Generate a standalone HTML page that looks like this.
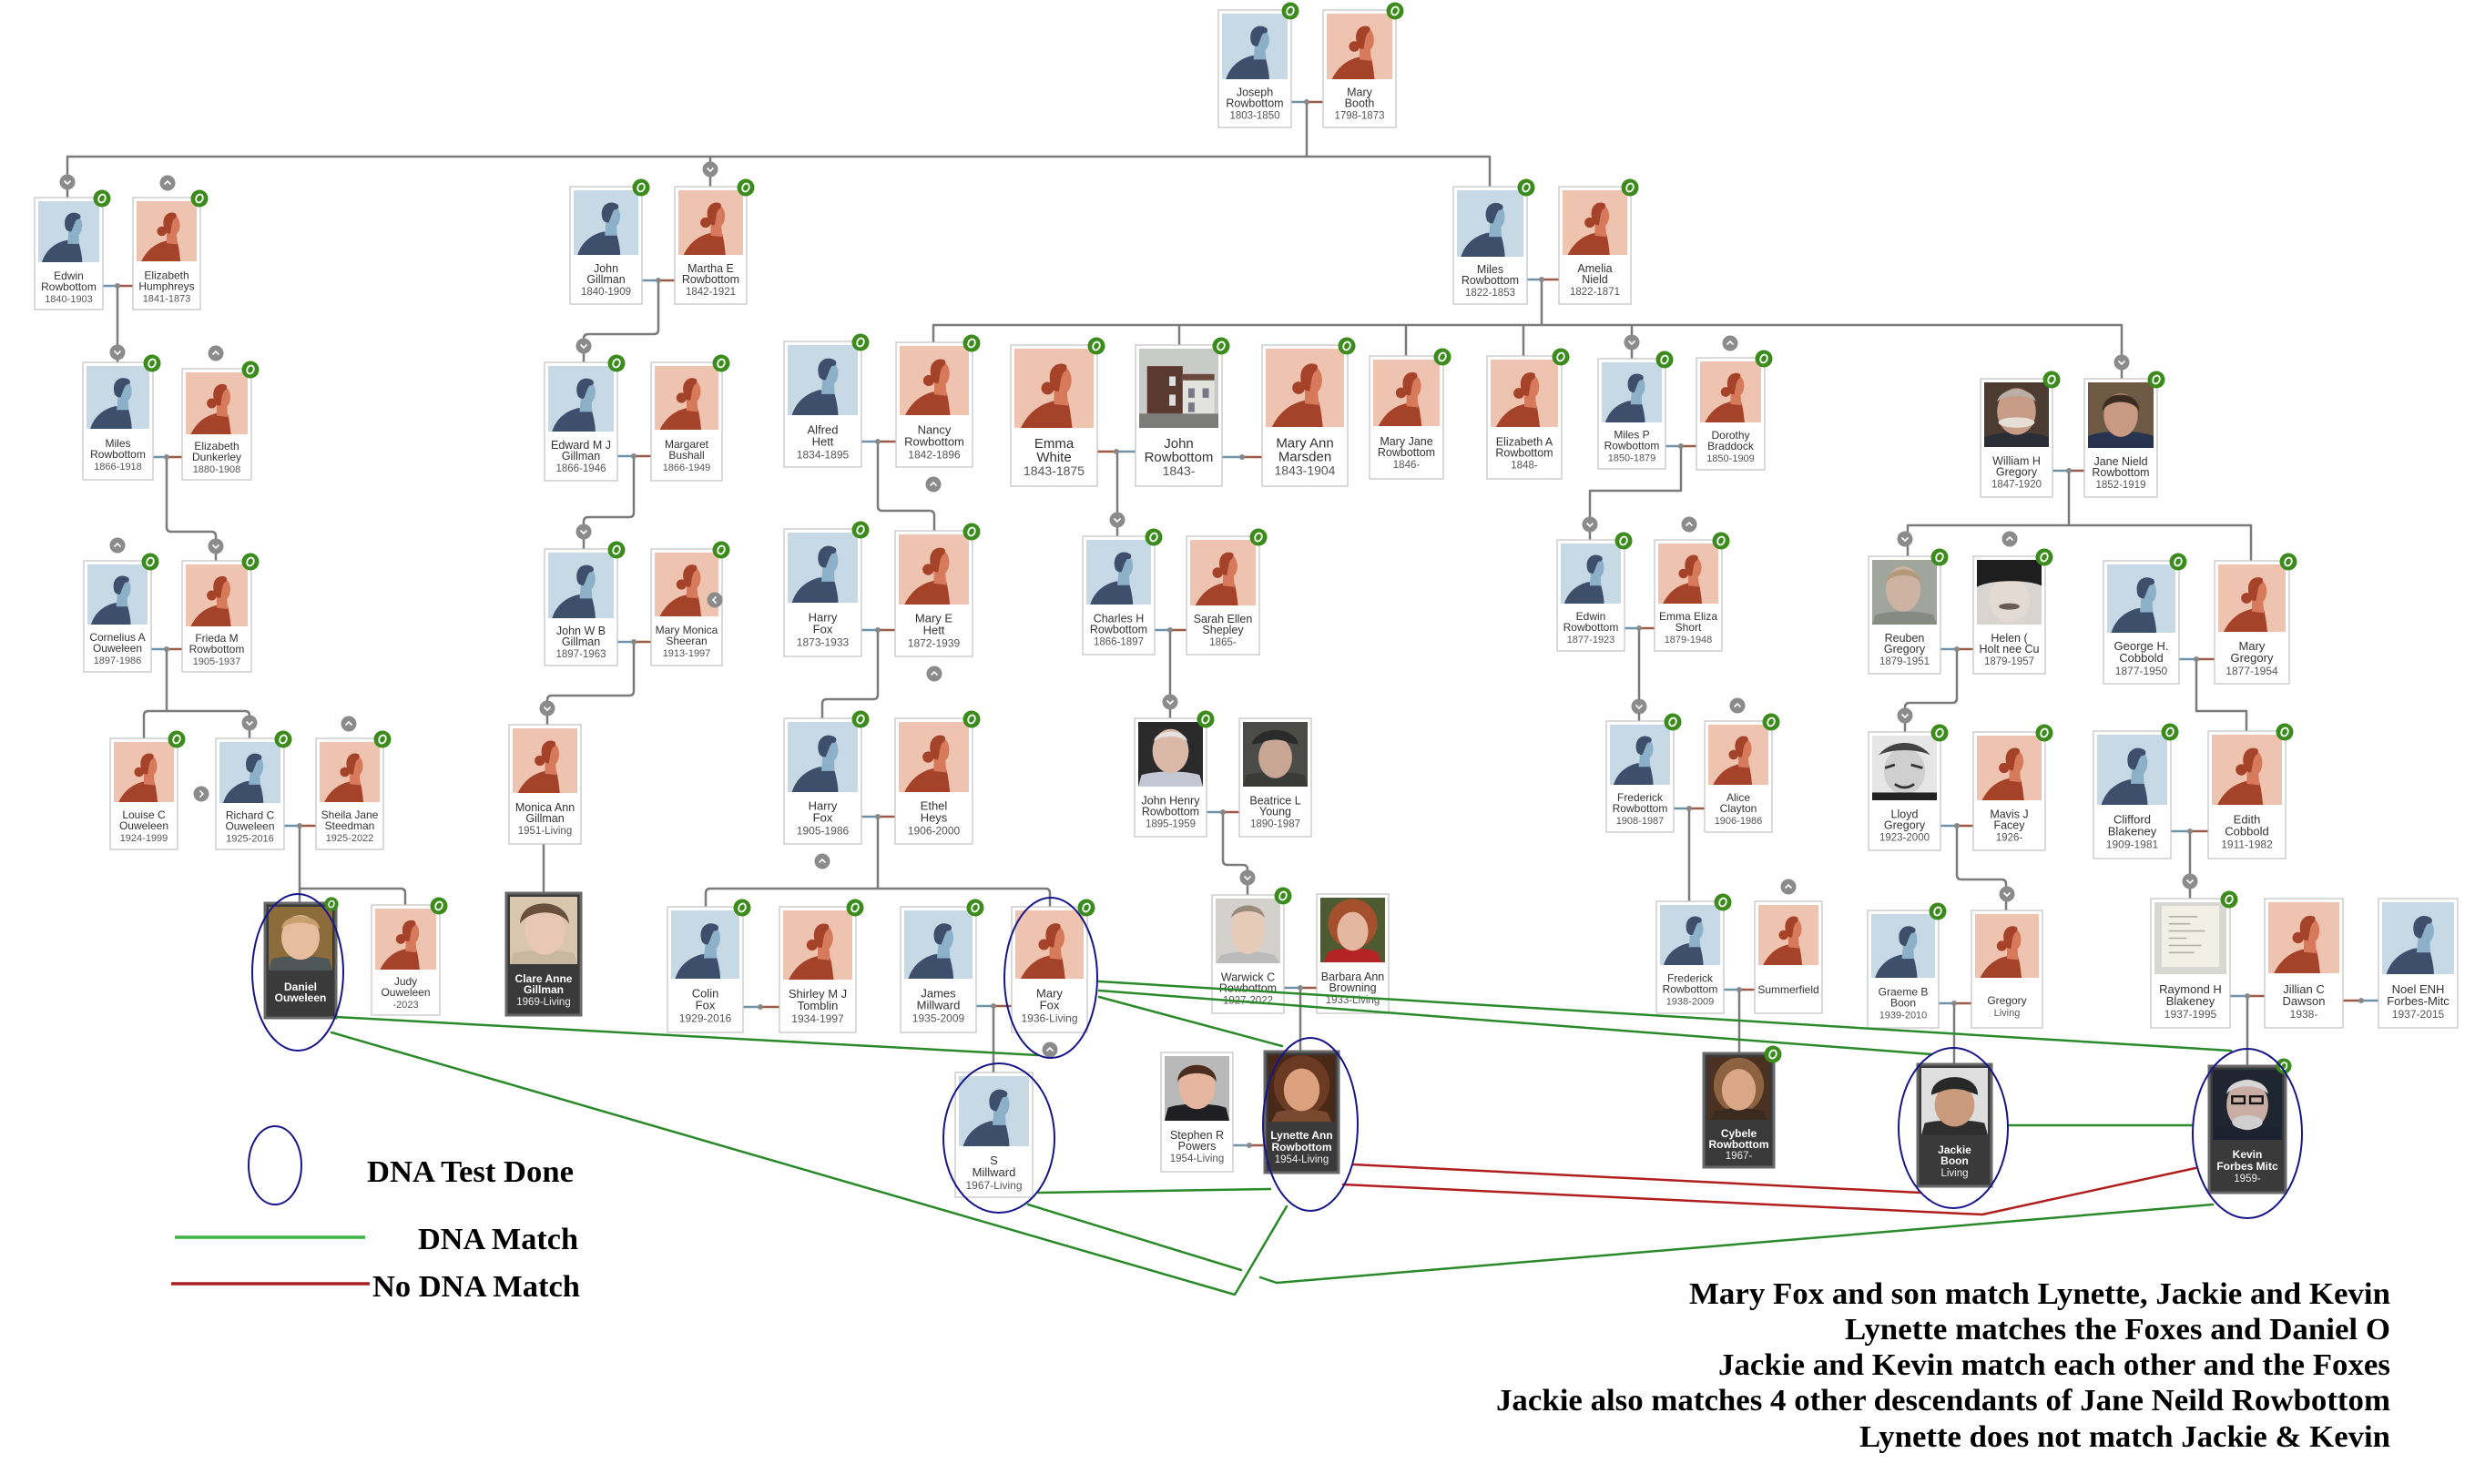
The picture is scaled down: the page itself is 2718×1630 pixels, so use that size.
<!DOCTYPE html>
<html><head><meta charset="utf-8"><style>
html,body{margin:0;padding:0;background:#fff;}
svg{display:block;}
.c{fill:#fff;stroke:#c2c2c2;stroke-width:1.2}
.k{fill:#3a3a3a;stroke:#676767;stroke-width:3}
text{font-family:"Liberation Sans",Arial,sans-serif;text-anchor:middle}
.a{font-size:12px;fill:#333}.a2{font-size:11px;fill:#555}
.b{font-size:12.5px;fill:#333}.b2{font-size:11.5px;fill:#555}
.l{font-size:13px;fill:#333}.l2{font-size:12px;fill:#555}
.e{font-size:15px;fill:#333}.e2{font-size:14px;fill:#555}
.w{font-size:12px;fill:#fff;font-weight:bold}.w2{font-size:11.5px;fill:#eee}
.tr{stroke:#7b7b7b;stroke-width:2.5;fill:none;stroke-linejoin:round}
.cb{stroke:#6e93a8;stroke-width:2.5}.cr{stroke:#9c5b47;stroke-width:2.5}
.g{stroke:#2a8a2a;stroke-width:2.5;fill:none}
.r{stroke:#b01e1e;stroke-width:2.5;fill:none}
.el{fill:none;stroke:#16168a;stroke-width:2}
.big{font-family:"Liberation Serif","Times New Roman",serif;font-weight:bold;font-size:34px;fill:#000;text-anchor:start}
</style></head><body>
<svg width="2718" height="1630" viewBox="0 0 2718 1630" xmlns="http://www.w3.org/2000/svg">
<defs>
<symbol id="M" viewBox="0 0 100 100" preserveAspectRatio="none"><rect width="100" height="100" fill="#c6d9e5"/><path d="M6 100 C12 80 28 68 46 64 L66 66 C70 80 72 92 72 100Z" fill="#3e4f6c"/><path d="M50 48 L66 48 L67 70 L48 70Z" fill="#8db0c9"/><ellipse cx="60" cy="40" rx="12" ry="18" fill="#8db0c9"/><path d="M44 42 C40 22 56 14 68 22 C71 26 69 30 63 30 C59 35 58 42 54 50 C48 50 45 47 44 42Z" fill="#3e4f6c"/></symbol>
<symbol id="F" viewBox="0 0 100 100" preserveAspectRatio="none"><rect width="100" height="100" fill="#eec3b0"/><path d="M8 100 C18 80 32 70 50 66 L68 68 C71 80 72 92 73 100Z" fill="#a4432a"/><path d="M50 50 L66 50 L68 72 L50 70Z" fill="#d67a5b"/><ellipse cx="60" cy="40" rx="12" ry="18" fill="#d67a5b"/><path d="M46 46 C40 24 54 16 64 20 C68 22 66 28 62 30 C58 36 58 46 56 54 C50 54 47 51 46 46Z" fill="#a4432a"/><circle cx="42" cy="50" r="8" fill="#a4432a"/></symbol>
<symbol id="pHS" viewBox="0 0 100 100" preserveAspectRatio="none"><rect width="100" height="100" fill="#c9cbc9"/><rect x="10" y="22" width="45" height="60" fill="#5a3a30"/><rect x="55" y="38" width="40" height="48" fill="#e2e2de"/><rect x="55" y="32" width="40" height="8" fill="#6a4a3e"/><rect x="0" y="82" width="100" height="18" fill="#7c7c78"/><rect x="62" y="50" width="8" height="12" fill="#778"/><rect x="80" y="50" width="8" height="12" fill="#778"/><rect x="62" y="68" width="8" height="12" fill="#778"/><rect x="38" y="35" width="8" height="12" fill="#ddd"/><rect x="38" y="58" width="8" height="14" fill="#ddd"/></symbol>
<symbol id="pWG" viewBox="0 0 100 100" preserveAspectRatio="none"><rect width="100" height="100" fill="#4b3b30"/><path d="M0 100 L0 85 C20 75 80 75 100 85 L100 100Z" fill="#2c2c36"/><ellipse cx="50" cy="45" rx="30" ry="36" fill="#c79d88"/><path d="M20 30 C25 5 75 5 80 30 C70 18 30 18 20 30Z" fill="#b8b0a8"/><ellipse cx="50" cy="62" rx="28" ry="8" fill="#e6dfd6"/></symbol>
<symbol id="pJN" viewBox="0 0 100 100" preserveAspectRatio="none"><rect width="100" height="100" fill="#6d5944"/><path d="M0 100 L0 82 C25 72 75 72 100 82 L100 100Z" fill="#283350"/><ellipse cx="50" cy="50" rx="26" ry="33" fill="#c99a82"/><path d="M22 45 C20 10 80 10 78 45 C72 25 28 25 22 45Z" fill="#3b2c22"/></symbol>
<symbol id="pRG" viewBox="0 0 100 100" preserveAspectRatio="none"><rect width="100" height="100" fill="#a0a69c"/><path d="M0 100 L5 85 C25 78 75 78 95 85 L100 100Z" fill="#878a80"/><ellipse cx="48" cy="45" rx="27" ry="35" fill="#cdb3a2"/><path d="M22 35 C25 8 72 8 75 35 C65 20 32 20 22 35Z" fill="#b49a7a"/></symbol>
<symbol id="pHH" viewBox="0 0 100 100" preserveAspectRatio="none"><rect width="100" height="100" fill="#d8d4d0"/><ellipse cx="50" cy="62" rx="32" ry="34" fill="#e4dad4"/><path d="M0 0 L100 0 L100 40 C80 30 20 30 0 42Z" fill="#1e1e1e"/><ellipse cx="50" cy="72" rx="16" ry="5" fill="#6a5a55"/></symbol>
<symbol id="pLG" viewBox="0 0 100 100" preserveAspectRatio="none"><rect width="100" height="100" fill="#e6e6e6"/><ellipse cx="50" cy="55" rx="32" ry="36" fill="#cfcfcf"/><path d="M10 30 C30 5 70 5 90 30 C70 20 30 20 10 30Z" fill="#444"/><path d="M20 50 L35 45 M60 45 L78 50 M35 75 C45 82 55 82 65 75" stroke="#333" stroke-width="4" fill="none"/><rect y="88" width="100" height="12" fill="#222"/></symbol>
<symbol id="pJH" viewBox="0 0 100 100" preserveAspectRatio="none"><rect width="100" height="100" fill="#2a2a2a"/><path d="M0 100 L5 82 C25 75 75 75 95 82 L100 100Z" fill="#c4c8d4"/><ellipse cx="50" cy="45" rx="28" ry="34" fill="#dab9a8"/><path d="M24 30 C28 10 72 10 76 30 C66 20 34 20 24 30Z" fill="#e8e0dc"/></symbol>
<symbol id="pBY" viewBox="0 0 100 100" preserveAspectRatio="none"><rect width="100" height="100" fill="#4b4b48"/><path d="M0 100 L5 82 C25 76 75 76 95 82 L100 100Z" fill="#3a3a38"/><ellipse cx="50" cy="55" rx="26" ry="32" fill="#c8a695"/><path d="M14 35 C20 5 80 5 86 35 L70 32 C60 26 40 26 30 32Z" fill="#2a2a2a"/></symbol>
<symbol id="pWC" viewBox="0 0 100 100" preserveAspectRatio="none"><rect width="100" height="100" fill="#d4d0cc"/><path d="M0 100 L8 88 C30 80 70 80 92 88 L100 100Z" fill="#bbb"/><ellipse cx="50" cy="48" rx="26" ry="38" fill="#e6cbb9"/><path d="M24 30 C28 4 72 4 76 30 C66 16 34 16 24 30Z" fill="#9a8a7a"/></symbol>
<symbol id="pBB" viewBox="0 0 100 100" preserveAspectRatio="none"><rect width="100" height="100" fill="#4e5b32"/><ellipse cx="50" cy="40" rx="38" ry="38" fill="#a4502c"/><path d="M5 100 L12 84 C30 76 70 76 88 84 L95 100Z" fill="#b52424"/><ellipse cx="50" cy="52" rx="24" ry="30" fill="#e4b7a0"/></symbol>
<symbol id="pSP" viewBox="0 0 100 100" preserveAspectRatio="none"><rect width="100" height="100" fill="#b9b9b9"/><path d="M0 100 L5 80 C25 72 75 72 95 80 L100 100Z" fill="#1f1f22"/><ellipse cx="50" cy="48" rx="28" ry="34" fill="#e6b6a0"/><path d="M20 40 C20 5 80 5 80 40 C72 22 28 22 20 40Z" fill="#4b2e1e"/></symbol>
<symbol id="pLY" viewBox="0 0 100 100" preserveAspectRatio="none"><rect width="100" height="100" fill="#4a2818"/><ellipse cx="50" cy="45" rx="42" ry="45" fill="#6b3a22"/><path d="M5 100 L12 86 C30 80 70 80 88 86 L95 100Z" fill="#7a4a30"/><ellipse cx="50" cy="52" rx="27" ry="32" fill="#dca27f"/></symbol>
<symbol id="pDA" viewBox="0 0 100 100" preserveAspectRatio="none"><rect width="100" height="100" fill="#8c6c3a"/><path d="M0 100 L5 82 C25 76 75 76 95 82 L100 100Z" fill="#4f5658"/><ellipse cx="50" cy="48" rx="30" ry="35" fill="#e7bd9f"/><path d="M20 35 C22 8 78 8 80 35 C70 22 30 22 20 35Z" fill="#c8a070"/></symbol>
<symbol id="pCA" viewBox="0 0 100 100" preserveAspectRatio="none"><rect width="100" height="100" fill="#d8c7ae"/><path d="M0 100 L5 84 C25 78 75 78 95 84 L100 100Z" fill="#c8b8a0"/><ellipse cx="52" cy="50" rx="30" ry="36" fill="#e8c7b7"/><path d="M15 40 C15 0 85 0 88 40 C75 18 30 18 15 40Z" fill="#6b4f3e"/></symbol>
<symbol id="pCY" viewBox="0 0 100 100" preserveAspectRatio="none"><rect width="100" height="100" fill="#4b3122"/><ellipse cx="50" cy="45" rx="40" ry="44" fill="#8c6240"/><path d="M5 100 L12 86 C30 80 70 80 88 86 L95 100Z" fill="#3a2a20"/><ellipse cx="50" cy="52" rx="27" ry="33" fill="#dba887"/></symbol>
<symbol id="pJB" viewBox="0 0 100 100" preserveAspectRatio="none"><rect width="100" height="100" fill="#dedede"/><path d="M0 100 L5 82 C25 76 75 76 95 82 L100 100Z" fill="#2e2e2e"/><ellipse cx="50" cy="55" rx="30" ry="32" fill="#c99a7b"/><path d="M15 40 C15 5 85 5 85 40 L70 35 C60 30 40 30 30 35Z" fill="#282828"/></symbol>
<symbol id="pKV" viewBox="0 0 100 100" preserveAspectRatio="none"><rect width="100" height="100" fill="#1f2531"/><path d="M0 100 L5 84 C25 78 75 78 95 84 L100 100Z" fill="#1c2230"/><ellipse cx="50" cy="50" rx="30" ry="36" fill="#c9ada5"/><path d="M20 35 C22 8 78 8 80 35 C70 20 30 20 20 35Z" fill="#d6d6d6"/><ellipse cx="50" cy="75" rx="22" ry="10" fill="#cfcfcf"/><rect x="28" y="38" width="18" height="10" fill="none" stroke="#111" stroke-width="3"/><rect x="54" y="38" width="18" height="10" fill="none" stroke="#111" stroke-width="3"/></symbol>
<symbol id="pRB" viewBox="0 0 100 100" preserveAspectRatio="none"><rect width="100" height="100" fill="#d8d8d2"/><rect x="10" y="5" width="80" height="85" fill="#f2f0e6"/><path d="M20 20 H60 M20 30 H50 M20 40 H70 M20 50 H45 M20 60 H65 M20 70 H55" stroke="#b0b0a8" stroke-width="2"/></symbol>
<symbol id="bg" viewBox="0 0 20 20"><circle cx="10" cy="10" r="9.5" fill="#3b8c1d"/><ellipse cx="10" cy="10" rx="3.6" ry="4.6" fill="none" stroke="#fff" stroke-width="1.8" transform="rotate(25 10 10)"/></symbol>
<symbol id="cd" viewBox="0 0 18 18"><circle cx="9" cy="9" r="8.5" fill="#8b8b8b"/><path d="M5.5 7.5 L9 11 L12.5 7.5" fill="none" stroke="#fff" stroke-width="1.6"/></symbol>
<symbol id="cu" viewBox="0 0 18 18"><circle cx="9" cy="9" r="8.5" fill="#8b8b8b"/><path d="M5.5 10.5 L9 7 L12.5 10.5" fill="none" stroke="#fff" stroke-width="1.6"/></symbol>
<symbol id="cl" viewBox="0 0 18 18"><circle cx="9" cy="9" r="8.5" fill="#8b8b8b"/><path d="M10.5 5.5 L7 9 L10.5 12.5" fill="none" stroke="#fff" stroke-width="1.6"/></symbol>
<symbol id="crr" viewBox="0 0 18 18"><circle cx="9" cy="9" r="8.5" fill="#8b8b8b"/><path d="M7.5 5.5 L11 9 L7.5 12.5" fill="none" stroke="#fff" stroke-width="1.6"/></symbol>
</defs>
<rect width="2718" height="1630" fill="#fff"/>

<!-- tree lines -->
<g class="tr">
<path d="M1435 112 V172"/>
<path d="M74 217 V172 H1636 V205"/><path d="M780 172 V205"/>
<path d="M129 314 V398"/>
<path d="M723 308 V362 Q723 367 718 367 H646 Q641 367 641 372 V398"/>
<path d="M1693 307 V357"/><path d="M1025 376 V357 H2330 V416"/><path d="M1295 357 V379"/><path d="M1544 357 V391"/><path d="M1673 357 V391"/><path d="M1792 357 V394"/>
<path d="M183 502 V579 Q183 584 188 584 H232 Q237 584 237 589 V616"/>
<path d="M696 501 V563 Q696 568 691 568 H646 Q641 568 641 573 V603"/>
<path d="M964 485 V556 Q964 561 969 561 H1021 Q1026 561 1026 566 V583"/>
<path d="M1227 496 V589"/>
<path d="M1846 490 V539 H1746 V593"/>
<path d="M2272 517 V577"/><path d="M2095 611 V577 H2472 V616"/>
<path d="M183 713 V781"/><path d="M158 811 V786 Q158 781 163 781 H269 Q274 781 274 786 V811"/>
<path d="M696 705 V759 Q696 764 691 764 H606 Q601 764 601 769 V796"/>
<path d="M964 692 V763 Q964 768 959 768 H908 Q903 768 903 773 V789"/>
<path d="M1285 692 V789"/>
<path d="M1800 690 V792"/>
<path d="M2149 713 V767 Q2149 772 2144 772 H2097 Q2092 772 2092 777 V804"/>
<path d="M2412 724 V781 H2467 V803"/>
<path d="M329 907 V992"/><path d="M329 976 H440 Q445 976 445 981 V994"/>
<path d="M597 927 V981"/>
<path d="M964 897 V976"/><path d="M775 996 V981 Q775 976 780 976 H1148 Q1153 976 1153 981 V996"/>
<path d="M1343 892 V945 Q1343 950 1348 950 H1365 Q1370 950 1370 955 V983"/>
<path d="M1855 888 V990"/>
<path d="M2149 907 V961 Q2149 966 2154 966 H2198 Q2203 966 2203 971 V1000"/>
<path d="M2405 913 V987"/>
<path d="M1091 1105 V1178"/>
<path d="M1428 1085 V1155"/>
<path d="M1910 1087 V1157"/>
<path d="M2146 1102 V1169"/>
<path d="M2468 1094 V1171"/>
</g>
<!-- couple connectors -->
<g>
<path class="cb" d="M1418 112H1435"/><path class="cr" d="M1435 112H1453"/>
<path class="cb" d="M113 314H129"/><path class="cr" d="M129 314H146"/>
<path class="cb" d="M705 308H723"/><path class="cr" d="M723 308H741"/>
<path class="cb" d="M1677 307H1693"/><path class="cr" d="M1693 307H1712"/>
<path class="cb" d="M168 502H183"/><path class="cr" d="M183 502H200"/>
<path class="cb" d="M678 501H696"/><path class="cr" d="M696 501H715"/>
<path class="cb" d="M946 485H964"/><path class="cr" d="M964 485H984"/>
<path class="cr" d="M1205 496H1226"/><path class="cb" d="M1226 496H1247"/>
<path class="cb" d="M1342 502H1364"/><path class="cr" d="M1364 502H1386"/>
<path class="cb" d="M1829 490H1846"/><path class="cr" d="M1846 490H1863"/>
<path class="cb" d="M2254 517H2272"/><path class="cr" d="M2272 517H2289"/>
<path class="cb" d="M166 713H183"/><path class="cr" d="M183 713H200"/>
<path class="cb" d="M678 705H696"/><path class="cr" d="M696 705H715"/>
<path class="cb" d="M946 692H964"/><path class="cr" d="M964 692H983"/>
<path class="cb" d="M1268 692H1285"/><path class="cr" d="M1285 692H1303"/>
<path class="cb" d="M1784 690H1800"/><path class="cr" d="M1800 690H1817"/>
<path class="cb" d="M2131 713H2149"/><path class="cr" d="M2149 713H2167"/>
<path class="cb" d="M2393 724H2412"/><path class="cr" d="M2412 724H2432"/>
<path class="cb" d="M312 907H329"/><path class="cr" d="M329 907H347"/>
<path class="cb" d="M946 897H964"/><path class="cr" d="M964 897H983"/>
<path class="cb" d="M1325 892H1343"/><path class="cr" d="M1343 892H1361"/>
<path class="cb" d="M1838 888H1855"/><path class="cr" d="M1855 888H1872"/>
<path class="cb" d="M2131 907H2149"/><path class="cr" d="M2149 907H2167"/>
<path class="cb" d="M2384 913H2405"/><path class="cr" d="M2405 913H2425"/>
<path class="cb" d="M816 1106H835"/><path class="cr" d="M835 1106H856"/>
<path class="cb" d="M1072 1105H1091"/><path class="cr" d="M1091 1105H1111"/>
<path class="cb" d="M1410 1085H1428"/><path class="cr" d="M1428 1085H1446"/>
<path class="cb" d="M1354 1258H1372"/><path class="cr" d="M1372 1258H1389"/>
<path class="cb" d="M1893 1087H1910"/><path class="cr" d="M1910 1087H1927"/>
<path class="cb" d="M2129 1102H2146"/><path class="cr" d="M2146 1102H2165"/>
<path class="cb" d="M2449 1094H2468"/><path class="cr" d="M2468 1094H2487"/>
<path class="cr" d="M2573 1099H2593"/><path class="cb" d="M2593 1099H2612"/>
</g>
<g fill="#888">
<circle cx="1435" cy="112" r="3"/><circle cx="129" cy="314" r="3"/><circle cx="723" cy="308" r="3"/><circle cx="1693" cy="307" r="3"/><circle cx="183" cy="502" r="3"/><circle cx="696" cy="501" r="3"/><circle cx="964" cy="485" r="3"/><circle cx="1226" cy="496" r="3"/><circle cx="1364" cy="502" r="3"/><circle cx="1846" cy="490" r="3"/><circle cx="2272" cy="517" r="3"/><circle cx="183" cy="713" r="3"/><circle cx="696" cy="705" r="3"/><circle cx="964" cy="692" r="3"/><circle cx="1285" cy="692" r="3"/><circle cx="1800" cy="690" r="3"/><circle cx="2149" cy="713" r="3"/><circle cx="2412" cy="724" r="3"/><circle cx="329" cy="907" r="3"/><circle cx="964" cy="897" r="3"/><circle cx="1343" cy="892" r="3"/><circle cx="1855" cy="888" r="3"/><circle cx="2149" cy="907" r="3"/><circle cx="2405" cy="913" r="3"/><circle cx="835" cy="1106" r="3"/><circle cx="1091" cy="1105" r="3"/><circle cx="1428" cy="1085" r="3"/><circle cx="1372" cy="1258" r="3"/><circle cx="1910" cy="1087" r="3"/><circle cx="2146" cy="1102" r="3"/><circle cx="2468" cy="1094" r="3"/><circle cx="2593" cy="1099" r="3"/>
</g>

<!-- cards -->
<g>
<rect class="c" x="1338" y="11" width="80" height="129"/><use href="#M" x="1342" y="15" width="72" height="72"/>
<text x="1378" y="105.5" class="b">Joseph</text><text x="1378" y="117.5" class="b">Rowbottom</text><text x="1378" y="130.5" class="b2">1803-1850</text>
<rect class="c" x="1453" y="11" width="80" height="129"/><use href="#F" x="1457" y="15" width="72" height="72"/>
<text x="1493" y="105.5" class="b">Mary</text><text x="1493" y="117.5" class="b">Booth</text><text x="1493" y="130.5" class="b2">1798-1873</text>

<rect class="c" x="38" y="217" width="75" height="123"/><use href="#M" x="42" y="221" width="67" height="67"/>
<text x="75.5" y="307" class="a">Edwin</text><text x="75.5" y="319" class="a">Rowbottom</text><text x="75.5" y="332" class="a2">1840-1903</text>
<rect class="c" x="146" y="217" width="74" height="123"/><use href="#F" x="150" y="221" width="66" height="66"/>
<text x="183" y="306.5" class="a">Elizabeth</text><text x="183" y="318.5" class="a">Humphreys</text><text x="183" y="331.5" class="a2">1841-1873</text>

<rect class="c" x="626" y="205" width="79" height="129"/><use href="#M" x="630" y="209" width="71" height="71"/>
<text x="665.5" y="299" class="b">John</text><text x="665.5" y="311" class="b">Gillman</text><text x="665.5" y="324" class="b2">1840-1909</text>
<rect class="c" x="741" y="205" width="79" height="129"/><use href="#F" x="745" y="209" width="71" height="71"/>
<text x="780.5" y="299" class="b">Martha E</text><text x="780.5" y="311" class="b">Rowbottom</text><text x="780.5" y="324" class="b2">1842-1921</text>

<rect class="c" x="1596" y="205" width="81" height="129"/><use href="#M" x="1600" y="209" width="73" height="73"/>
<text x="1636.5" y="300" class="b">Miles</text><text x="1636.5" y="312" class="b">Rowbottom</text><text x="1636.5" y="325" class="b2">1822-1853</text>
<rect class="c" x="1712" y="205" width="79" height="129"/><use href="#F" x="1716" y="209" width="71" height="71"/>
<text x="1751.5" y="299" class="b">Amelia</text><text x="1751.5" y="311" class="b">Nield</text><text x="1751.5" y="324" class="b2">1822-1871</text>

<rect class="c" x="91" y="398" width="77" height="129"/><use href="#M" x="95" y="402" width="69" height="69"/>
<text x="129.5" y="491" class="a">Miles</text><text x="129.5" y="503" class="a">Rowbottom</text><text x="129.5" y="516" class="a2">1866-1918</text>
<rect class="c" x="200" y="405" width="76" height="122"/><use href="#F" x="204" y="409" width="68" height="68"/>
<text x="238" y="494" class="a">Elizabeth</text><text x="238" y="506" class="a">Dunkerley</text><text x="238" y="519" class="a2">1880-1908</text>

<rect class="c" x="598" y="398" width="80" height="130"/><use href="#M" x="602" y="402" width="72" height="72"/>
<text x="638" y="493" class="b">Edward M J</text><text x="638" y="505" class="b">Gillman</text><text x="638" y="518" class="b2">1866-1946</text>
<rect class="c" x="715" y="398" width="78" height="130"/><use href="#F" x="719" y="402" width="70" height="70"/>
<text x="754" y="492" class="a">Margaret</text><text x="754" y="504" class="a">Bushall</text><text x="754" y="517" class="a2">1866-1949</text>

<rect class="c" x="861" y="375" width="85" height="138"/><use href="#M" x="865" y="379" width="77" height="77"/>
<text x="903.5" y="476.5" class="l">Alfred</text><text x="903.5" y="489.5" class="l">Hett</text><text x="903.5" y="503.5" class="l2">1834-1895</text>
<rect class="c" x="984" y="376" width="84" height="137"/><use href="#F" x="988" y="380" width="76" height="76"/>
<text x="1026" y="476.5" class="l">Nancy</text><text x="1026" y="489.5" class="l">Rowbottom</text><text x="1026" y="503.5" class="l2">1842-1896</text>

<rect class="c" x="1110" y="379" width="95" height="155"/><use href="#F" x="1114" y="383" width="87" height="87"/>
<text x="1157.5" y="492" class="e">Emma</text><text x="1157.5" y="507" class="e">White</text><text x="1157.5" y="522" class="e2">1843-1875</text>
<rect class="c" x="1247" y="379" width="95" height="155"/><use href="#pHS" x="1251" y="383" width="87" height="87"/>
<text x="1294.5" y="492" class="e">John</text><text x="1294.5" y="507" class="e">Rowbottom</text><text x="1294.5" y="522" class="e2">1843-</text>
<rect class="c" x="1386" y="379" width="94" height="155"/><use href="#F" x="1390" y="383" width="86" height="86"/>
<text x="1433" y="491.5" class="e">Mary Ann</text><text x="1433" y="506.5" class="e">Marsden</text><text x="1433" y="521.5" class="e2">1843-1904</text>

<rect class="c" x="1504" y="391" width="81" height="135"/><use href="#F" x="1508" y="395" width="73" height="73"/>
<text x="1544.5" y="489" class="b">Mary Jane</text><text x="1544.5" y="501" class="b">Rowbottom</text><text x="1544.5" y="514" class="b2">1846-</text>
<rect class="c" x="1633" y="391" width="82" height="135"/><use href="#F" x="1637" y="395" width="74" height="74"/>
<text x="1674" y="489.5" class="b">Elizabeth A</text><text x="1674" y="501.5" class="b">Rowbottom</text><text x="1674" y="514.5" class="b2">1848-</text>
<rect class="c" x="1755" y="394" width="74" height="121"/><use href="#M" x="1759" y="398" width="66" height="66"/>
<text x="1792" y="481.5" class="a">Miles P</text><text x="1792" y="493.5" class="a">Rowbottom</text><text x="1792" y="506.5" class="a2">1850-1879</text>
<rect class="c" x="1863" y="393" width="75" height="123"/><use href="#F" x="1867" y="397" width="67" height="67"/>
<text x="1900.5" y="482" class="a">Dorothy</text><text x="1900.5" y="494" class="a">Braddock</text><text x="1900.5" y="507" class="a2">1850-1909</text>

<rect class="c" x="2175" y="416" width="79" height="130"/><use href="#pWG" x="2179" y="420" width="71" height="71"/>
<text x="2214.5" y="510.5" class="b">William H</text><text x="2214.5" y="522.5" class="b">Gregory</text><text x="2214.5" y="535.5" class="b2">1847-1920</text>
<rect class="c" x="2289" y="416" width="80" height="130"/><use href="#pJN" x="2293" y="420" width="72" height="72"/>
<text x="2329" y="511" class="b">Jane Nield</text><text x="2329" y="523" class="b">Rowbottom</text><text x="2329" y="536" class="b2">1852-1919</text>

<rect class="c" x="92" y="616" width="74" height="122"/><use href="#M" x="96" y="620" width="66" height="66"/>
<text x="129" y="704" class="a">Cornelius A</text><text x="129" y="716" class="a">Ouweleen</text><text x="129" y="729" class="a2">1897-1986</text>
<rect class="c" x="200" y="616" width="76" height="122"/><use href="#F" x="204" y="620" width="68" height="68"/>
<text x="238" y="705" class="a">Frieda M</text><text x="238" y="717" class="a">Rowbottom</text><text x="238" y="730" class="a2">1905-1937</text>

<rect class="c" x="598" y="603" width="80" height="128"/><use href="#M" x="602" y="607" width="72" height="72"/>
<text x="638" y="697" class="b">John W B</text><text x="638" y="709" class="b">Gillman</text><text x="638" y="722" class="b2">1897-1963</text>
<rect class="c" x="715" y="603" width="78" height="128"/><use href="#F" x="719" y="607" width="70" height="70"/>
<text x="754" y="696" class="a">Mary Monica</text><text x="754" y="708" class="a">Sheeran</text><text x="754" y="721" class="a2">1913-1997</text>

<rect class="c" x="861" y="581" width="85" height="140"/><use href="#M" x="865" y="585" width="77" height="77"/>
<text x="903.5" y="682.5" class="l">Harry</text><text x="903.5" y="695.5" class="l">Fox</text><text x="903.5" y="709.5" class="l2">1873-1933</text>
<rect class="c" x="983" y="583" width="85" height="138"/><use href="#F" x="987" y="587" width="77" height="77"/>
<text x="1025.5" y="683.5" class="l">Mary E</text><text x="1025.5" y="696.5" class="l">Hett</text><text x="1025.5" y="710.5" class="l2">1872-1939</text>

<rect class="c" x="1189" y="589" width="79" height="130"/><use href="#M" x="1193" y="593" width="71" height="71"/>
<text x="1228.5" y="683.5" class="b">Charles H</text><text x="1228.5" y="695.5" class="b">Rowbottom</text><text x="1228.5" y="708.5" class="b2">1866-1897</text>
<rect class="c" x="1303" y="589" width="80" height="130"/><use href="#F" x="1307" y="593" width="72" height="72"/>
<text x="1343" y="684" class="b">Sarah Ellen</text><text x="1343" y="696" class="b">Shepley</text><text x="1343" y="709" class="b2">1865-</text>

<rect class="c" x="1710" y="593" width="74" height="122"/><use href="#M" x="1714" y="597" width="66" height="66"/>
<text x="1747" y="681" class="a">Edwin</text><text x="1747" y="693" class="a">Rowbottom</text><text x="1747" y="706" class="a2">1877-1923</text>
<rect class="c" x="1817" y="593" width="74" height="122"/><use href="#F" x="1821" y="597" width="66" height="66"/>
<text x="1854" y="681" class="a">Emma Eliza</text><text x="1854" y="693" class="a">Short</text><text x="1854" y="706" class="a2">1879-1948</text>

<rect class="c" x="2052" y="611" width="79" height="129"/><use href="#pRG" x="2056" y="615" width="71" height="71"/>
<text x="2091.5" y="705" class="b">Reuben</text><text x="2091.5" y="717" class="b">Gregory</text><text x="2091.5" y="730" class="b2">1879-1951</text>
<rect class="c" x="2167" y="611" width="79" height="129"/><use href="#pHH" x="2171" y="615" width="71" height="71"/>
<text x="2206.5" y="705" class="b">Helen (</text><text x="2206.5" y="717" class="b">Holt nee Cu</text><text x="2206.5" y="730" class="b2">1879-1957</text>

<rect class="c" x="2310" y="616" width="83" height="135"/><use href="#M" x="2314" y="620" width="75" height="75"/>
<text x="2351.5" y="714" class="l">George H.</text><text x="2351.5" y="727" class="l">Cobbold</text><text x="2351.5" y="741" class="l2">1877-1950</text>
<rect class="c" x="2432" y="616" width="82" height="135"/><use href="#F" x="2436" y="620" width="74" height="74"/>
<text x="2473" y="714" class="l">Mary</text><text x="2473" y="727" class="l">Gregory</text><text x="2473" y="741" class="l2">1877-1954</text>

<rect class="c" x="121" y="811" width="74" height="122"/><use href="#F" x="125" y="815" width="66" height="66"/>
<text x="158" y="899" class="a">Louise C</text><text x="158" y="911" class="a">Ouweleen</text><text x="158" y="924" class="a2">1924-1999</text>
<rect class="c" x="237" y="811" width="75" height="122"/><use href="#M" x="241" y="815" width="67" height="67"/>
<text x="274.5" y="899.5" class="a">Richard C</text><text x="274.5" y="911.5" class="a">Ouweleen</text><text x="274.5" y="924.5" class="a2">1925-2016</text>
<rect class="c" x="347" y="811" width="74" height="122"/><use href="#F" x="351" y="815" width="66" height="66"/>
<text x="384" y="899" class="a">Sheila Jane</text><text x="384" y="911" class="a">Steedman</text><text x="384" y="924" class="a2">1925-2022</text>

<rect class="c" x="559" y="796" width="79" height="131"/><use href="#F" x="563" y="800" width="71" height="71"/>
<text x="598.5" y="891" class="b">Monica Ann</text><text x="598.5" y="903" class="b">Gillman</text><text x="598.5" y="916" class="b2">1951-Living</text>

<rect class="c" x="861" y="789" width="85" height="138"/><use href="#M" x="865" y="793" width="77" height="77"/>
<text x="903.5" y="889.5" class="l">Harry</text><text x="903.5" y="902.5" class="l">Fox</text><text x="903.5" y="916.5" class="l2">1905-1986</text>
<rect class="c" x="983" y="789" width="85" height="138"/><use href="#F" x="987" y="793" width="77" height="77"/>
<text x="1025.5" y="889.5" class="l">Ethel</text><text x="1025.5" y="902.5" class="l">Heys</text><text x="1025.5" y="916.5" class="l2">1906-2000</text>

<rect class="c" x="1246" y="789" width="79" height="130"/><use href="#pJH" x="1250" y="793" width="71" height="71"/>
<text x="1285.5" y="883.5" class="b">John Henry</text><text x="1285.5" y="895.5" class="b">Rowbottom</text><text x="1285.5" y="908.5" class="b2">1895-1959</text>
<rect class="c" x="1361" y="789" width="79" height="130"/><use href="#pBY" x="1365" y="793" width="71" height="71"/>
<text x="1400.5" y="883.5" class="b">Beatrice L</text><text x="1400.5" y="895.5" class="b">Young</text><text x="1400.5" y="908.5" class="b2">1890-1987</text>

<rect class="c" x="1764" y="792" width="74" height="122"/><use href="#M" x="1768" y="796" width="66" height="66"/>
<text x="1801" y="880" class="a">Frederick</text><text x="1801" y="892" class="a">Rowbottom</text><text x="1801" y="905" class="a2">1908-1987</text>
<rect class="c" x="1872" y="792" width="74" height="122"/><use href="#F" x="1876" y="796" width="66" height="66"/>
<text x="1909" y="880" class="a">Alice</text><text x="1909" y="892" class="a">Clayton</text><text x="1909" y="905" class="a2">1906-1986</text>

<rect class="c" x="2052" y="804" width="79" height="130"/><use href="#pLG" x="2056" y="808" width="71" height="71"/>
<text x="2091.5" y="898.5" class="b">Lloyd</text><text x="2091.5" y="910.5" class="b">Gregory</text><text x="2091.5" y="923.5" class="b2">1923-2000</text>
<rect class="c" x="2167" y="804" width="79" height="130"/><use href="#F" x="2171" y="808" width="71" height="71"/>
<text x="2206.5" y="898.5" class="b">Mavis J</text><text x="2206.5" y="910.5" class="b">Facey</text><text x="2206.5" y="923.5" class="b2">1926-</text>

<rect class="c" x="2299" y="803" width="85" height="140"/><use href="#M" x="2303" y="807" width="77" height="77"/>
<text x="2341.5" y="904.5" class="l">Clifford</text><text x="2341.5" y="917.5" class="l">Blakeney</text><text x="2341.5" y="931.5" class="l2">1909-1981</text>
<rect class="c" x="2425" y="803" width="85" height="140"/><use href="#F" x="2429" y="807" width="77" height="77"/>
<text x="2467.5" y="904.5" class="l">Edith</text><text x="2467.5" y="917.5" class="l">Cobbold</text><text x="2467.5" y="931.5" class="l2">1911-1982</text>

<rect class="k" x="291" y="992" width="78" height="126"/><use href="#pDA" x="295" y="996" width="70" height="70"/>
<text x="330" y="1088" class="w">Daniel</text><text x="330" y="1100" class="w">Ouweleen</text>
<rect class="c" x="408" y="994" width="75" height="121"/><use href="#F" x="412" y="998" width="67" height="67"/>
<text x="445.5" y="1082" class="a">Judy</text><text x="445.5" y="1094" class="a">Ouweleen</text><text x="445.5" y="1107" class="a2">-2023</text>
<rect class="k" x="556" y="981" width="82" height="134"/><use href="#pCA" x="560" y="985" width="74" height="74"/>
<text x="597" y="1079" class="w">Clare Anne</text><text x="597" y="1091" class="w">Gillman</text><text x="597" y="1104" class="w2">1969-Living</text>

<rect class="c" x="733" y="996" width="83" height="138"/><use href="#M" x="737" y="1000" width="75" height="75"/>
<text x="774.5" y="1095.5" class="l">Colin</text><text x="774.5" y="1108.5" class="l">Fox</text><text x="774.5" y="1122.5" class="l2">1929-2016</text>
<rect class="c" x="856" y="996" width="84" height="138"/><use href="#F" x="860" y="1000" width="76" height="76"/>
<text x="898" y="1096" class="l">Shirley M J</text><text x="898" y="1109" class="l">Tomblin</text><text x="898" y="1123" class="l2">1934-1997</text>
<rect class="c" x="989" y="996" width="83" height="138"/><use href="#M" x="993" y="1000" width="75" height="75"/>
<text x="1030.5" y="1095.5" class="l">James</text><text x="1030.5" y="1108.5" class="l">Millward</text><text x="1030.5" y="1122.5" class="l2">1935-2009</text>
<rect class="c" x="1111" y="996" width="83" height="138"/><use href="#F" x="1115" y="1000" width="75" height="75"/>
<text x="1152.5" y="1095.5" class="l">Mary</text><text x="1152.5" y="1108.5" class="l">Fox</text><text x="1152.5" y="1122.5" class="l2">1936-Living</text>

<rect class="c" x="1331" y="983" width="79" height="130"/><use href="#pWC" x="1335" y="987" width="71" height="71"/>
<text x="1370.5" y="1077.5" class="b">Warwick C</text><text x="1370.5" y="1089.5" class="b">Rowbottom</text><text x="1370.5" y="1102.5" class="b2">1927-2022</text>
<rect class="c" x="1446" y="982" width="79" height="131"/><use href="#pBB" x="1450" y="986" width="71" height="71"/>
<text x="1485.5" y="1077" class="b">Barbara Ann</text><text x="1485.5" y="1089" class="b">Browning</text><text x="1485.5" y="1102" class="b2">1933-Living</text>

<rect class="c" x="1275" y="1156" width="79" height="131"/><use href="#pSP" x="1279" y="1160" width="71" height="71"/>
<text x="1314.5" y="1251" class="b">Stephen R</text><text x="1314.5" y="1263" class="b">Powers</text><text x="1314.5" y="1276" class="b2">1954-Living</text>
<rect class="k" x="1389" y="1155" width="81" height="133"/><use href="#pLY" x="1393" y="1159" width="73" height="73"/>
<text x="1429.5" y="1251" class="w">Lynette Ann</text><text x="1429.5" y="1264" class="w">Rowbottom</text><text x="1429.5" y="1277" class="w2">1954-Living</text>

<rect class="c" x="1049" y="1178" width="85" height="137"/><use href="#M" x="1053" y="1182" width="77" height="77"/>
<text x="1091.5" y="1279" class="l">S</text><text x="1091.5" y="1292" class="l">Millward</text><text x="1091.5" y="1306" class="l2">1967-Living</text>

<rect class="c" x="1819" y="990" width="74" height="123"/><use href="#M" x="1823" y="994" width="66" height="66"/>
<text x="1856" y="1078.5" class="a">Frederick</text><text x="1856" y="1090.5" class="a">Rowbottom</text><text x="1856" y="1103.5" class="a2">1938-2009</text>
<rect class="c" x="1927" y="990" width="74" height="123"/><use href="#F" x="1931" y="994" width="66" height="66"/>
<text x="1964" y="1091" class="a">Summerfield</text>
<rect class="k" x="1871" y="1157" width="77" height="125"/><use href="#pCY" x="1875" y="1161" width="69" height="69"/>
<text x="1909.5" y="1249" class="w">Cybele</text><text x="1909.5" y="1261" class="w">Rowbottom</text><text x="1909.5" y="1273" class="w2">1967-</text>

<rect class="c" x="2051" y="1000" width="78" height="129"/><use href="#M" x="2055" y="1004" width="70" height="70"/>
<text x="2090" y="1093.5" class="a">Graeme B</text><text x="2090" y="1105.5" class="a">Boon</text><text x="2090" y="1118.5" class="a2">1939-2010</text>
<rect class="c" x="2165" y="1000" width="78" height="129"/><use href="#F" x="2169" y="1004" width="70" height="70"/>
<text x="2204" y="1103" class="a">Gregory</text><text x="2204" y="1116" class="a2">Living</text>
<rect class="k" x="2106" y="1169" width="81" height="134"/><use href="#pJB" x="2110" y="1173" width="73" height="74"/>
<text x="2146.5" y="1267" class="w">Jackie</text><text x="2146.5" y="1279" class="w">Boon</text><text x="2146.5" y="1292" class="w2">Living</text>

<rect class="c" x="2362" y="987" width="87" height="142"/><use href="#pRB" x="2366" y="991" width="79" height="79"/>
<text x="2405.5" y="1091" class="l">Raymond H</text><text x="2405.5" y="1104" class="l">Blakeney</text><text x="2405.5" y="1118" class="l2">1937-1995</text>
<rect class="c" x="2487" y="987" width="86" height="142"/><use href="#F" x="2491" y="991" width="78" height="78"/>
<text x="2530" y="1091" class="l">Jillian C</text><text x="2530" y="1104" class="l">Dawson</text><text x="2530" y="1118" class="l2">1938-</text>
<rect class="c" x="2612" y="987" width="87" height="142"/><use href="#M" x="2616" y="991" width="79" height="79"/>
<text x="2655.5" y="1091" class="l">Noel ENH</text><text x="2655.5" y="1104" class="l">Forbes-Mitc</text><text x="2655.5" y="1118" class="l2">1937-2015</text>
<rect class="k" x="2426" y="1171" width="84" height="139"/><use href="#pKV" x="2430" y="1175" width="76" height="77"/>
<text x="2468" y="1272" class="w">Kevin</text><text x="2468" y="1285" class="w">Forbes Mitc</text><text x="2468" y="1298" class="w2">1959-</text>
</g>

<!-- badges -->
<g>
<use href="#bg" x="1407" y="2" width="20" height="20"/><use href="#bg" x="1522" y="2" width="20" height="20"/>
<use href="#bg" x="102" y="208" width="20" height="20"/><use href="#bg" x="209" y="208" width="20" height="20"/>
<use href="#bg" x="694" y="196" width="20" height="20"/><use href="#bg" x="809" y="196" width="20" height="20"/>
<use href="#bg" x="1666" y="196" width="20" height="20"/><use href="#bg" x="1780" y="196" width="20" height="20"/>
<use href="#bg" x="157" y="389" width="20" height="20"/><use href="#bg" x="265" y="396" width="20" height="20"/>
<use href="#bg" x="667" y="389" width="20" height="20"/><use href="#bg" x="782" y="389" width="20" height="20"/>
<use href="#bg" x="935" y="366" width="20" height="20"/><use href="#bg" x="1057" y="367" width="20" height="20"/>
<use href="#bg" x="1194" y="370" width="20" height="20"/><use href="#bg" x="1331" y="370" width="20" height="20"/><use href="#bg" x="1469" y="370" width="20" height="20"/>
<use href="#bg" x="1574" y="382" width="20" height="20"/><use href="#bg" x="1704" y="382" width="20" height="20"/>
<use href="#bg" x="1818" y="385" width="20" height="20"/><use href="#bg" x="1927" y="384" width="20" height="20"/>
<use href="#bg" x="2243" y="407" width="20" height="20"/><use href="#bg" x="2358" y="407" width="20" height="20"/>
<use href="#bg" x="155" y="607" width="20" height="20"/><use href="#bg" x="265" y="607" width="20" height="20"/>
<use href="#bg" x="667" y="594" width="20" height="20"/><use href="#bg" x="782" y="594" width="20" height="20"/>
<use href="#bg" x="935" y="572" width="20" height="20"/><use href="#bg" x="1057" y="574" width="20" height="20"/>
<use href="#bg" x="1257" y="580" width="20" height="20"/><use href="#bg" x="1372" y="580" width="20" height="20"/>
<use href="#bg" x="1773" y="584" width="20" height="20"/><use href="#bg" x="1880" y="584" width="20" height="20"/>
<use href="#bg" x="2120" y="602" width="20" height="20"/><use href="#bg" x="2235" y="602" width="20" height="20"/>
<use href="#bg" x="2382" y="607" width="20" height="20"/><use href="#bg" x="2503" y="607" width="20" height="20"/>
<use href="#bg" x="184" y="802" width="20" height="20"/><use href="#bg" x="301" y="802" width="20" height="20"/><use href="#bg" x="410" y="802" width="20" height="20"/>
<use href="#bg" x="935" y="780" width="20" height="20"/><use href="#bg" x="1057" y="780" width="20" height="20"/>
<use href="#bg" x="1314" y="780" width="20" height="20"/>
<use href="#bg" x="1827" y="783" width="20" height="20"/><use href="#bg" x="1935" y="783" width="20" height="20"/>
<use href="#bg" x="2120" y="795" width="20" height="20"/><use href="#bg" x="2235" y="795" width="20" height="20"/>
<use href="#bg" x="2373" y="794" width="20" height="20"/><use href="#bg" x="2499" y="794" width="20" height="20"/>
<use href="#bg" x="356" y="985" width="16" height="16"/><use href="#bg" x="472" y="985" width="20" height="20"/>
<use href="#bg" x="805" y="987" width="20" height="20"/><use href="#bg" x="929" y="987" width="20" height="20"/>
<use href="#bg" x="1061" y="987" width="20" height="20"/><use href="#bg" x="1183" y="987" width="20" height="20"/>
<use href="#bg" x="1399" y="974" width="20" height="20"/>
<use href="#bg" x="1882" y="981" width="20" height="20"/><use href="#bg" x="1937" y="1148" width="20" height="20"/>
<use href="#bg" x="2118" y="991" width="20" height="20"/><use href="#bg" x="2438" y="978" width="20" height="20"/>
<use href="#bg" x="2499" y="1162" width="18" height="18"/>
</g>

<!-- chevrons -->
<g>
<use href="#cd" x="65" y="191" width="18" height="18"/><use href="#cd" x="771" y="177" width="18" height="18"/>
<use href="#cd" x="120" y="378" width="18" height="18"/><use href="#cd" x="632" y="371" width="18" height="18"/>
<use href="#cd" x="1783" y="367" width="18" height="18"/><use href="#cd" x="2321" y="389" width="18" height="18"/>
<use href="#cd" x="228" y="591" width="18" height="18"/><use href="#cd" x="632" y="575" width="18" height="18"/>
<use href="#cd" x="1218" y="562" width="18" height="18"/><use href="#cd" x="1737" y="567" width="18" height="18"/>
<use href="#cd" x="2083" y="583" width="18" height="18"/><use href="#cd" x="265" y="785" width="18" height="18"/>
<use href="#cd" x="592" y="769" width="18" height="18"/><use href="#cd" x="1276" y="762" width="18" height="18"/>
<use href="#cd" x="1791" y="767" width="18" height="18"/><use href="#cd" x="2083" y="777" width="18" height="18"/>
<use href="#cd" x="1361" y="955" width="18" height="18"/><use href="#cd" x="2195" y="973" width="18" height="18"/>
<use href="#cd" x="2396" y="959" width="18" height="18"/>
<use href="#cu" x="175" y="192" width="18" height="18"/><use href="#cu" x="228" y="379" width="18" height="18"/>
<use href="#cu" x="1016" y="523" width="18" height="18"/><use href="#cu" x="1891" y="368" width="18" height="18"/>
<use href="#cu" x="120" y="590" width="18" height="18"/><use href="#cu" x="1017" y="731" width="18" height="18"/>
<use href="#cu" x="1846" y="567" width="18" height="18"/><use href="#cu" x="2198" y="583" width="18" height="18"/>
<use href="#cu" x="374" y="786" width="18" height="18"/><use href="#cu" x="894" y="937" width="18" height="18"/>
<use href="#cu" x="1899" y="766" width="18" height="18"/><use href="#cu" x="1955" y="965" width="18" height="18"/>
<use href="#cu" x="1144" y="1144" width="18" height="18"/>
<use href="#cl" x="776" y="650" width="18" height="18"/>
<use href="#crr" x="212" y="863" width="18" height="18"/>
</g>

<!-- DNA lines -->
<g stroke-linecap="round" stroke-linejoin="round">
<polyline class="g" points="369,1117 1140,1159"/>
<polyline class="g" points="364,1134 1356,1422 1413,1325"/>
<polyline class="g" points="1129,1323 1363,1395"/>
<polyline class="g" points="1384,1403 1402,1409 2430,1323"/>
<polyline class="g" points="1140,1310 1395,1306"/>
<polyline class="g" points="1207,1078 2450,1154"/>
<polyline class="g" points="1207,1088 2121,1158"/>
<polyline class="g" points="1207,1095 1408,1149"/>
<polyline class="g" points="2206,1236 2408,1236"/>
<polyline class="r" points="1486,1279 2109,1310"/>
<polyline class="r" points="1475,1301 2177,1334 2411,1283"/>
</g>

<!-- DNA ellipses -->
<g>
<ellipse class="el" cx="327" cy="1068" rx="50" ry="86"/>
<ellipse class="el" cx="1154" cy="1074" rx="51" ry="88"/>
<ellipse class="el" cx="1097" cy="1250" rx="61" ry="82"/>
<ellipse class="el" cx="1439" cy="1235" rx="52" ry="95"/>
<ellipse class="el" cx="2145" cy="1239" rx="60" ry="88"/>
<ellipse class="el" cx="2468" cy="1245" rx="60" ry="93"/>
<ellipse class="el" cx="302" cy="1280" rx="29" ry="43"/>
</g>

<!-- legend -->
<line x1="192" y1="1359" x2="401" y2="1359" stroke="#3cb043" stroke-width="3.5"/>
<line x1="188" y1="1410" x2="406" y2="1410" stroke="#a82020" stroke-width="3.5"/>
<text class="big" x="403" y="1298" textLength="227" lengthAdjust="spacingAndGlyphs">DNA Test Done</text>
<text class="big" x="459" y="1372" textLength="176" lengthAdjust="spacingAndGlyphs">DNA Match</text>
<text class="big" x="409" y="1424" textLength="228" lengthAdjust="spacingAndGlyphs">No DNA Match</text>

<!-- notes -->
<text class="big" x="1855" y="1432" textLength="770" lengthAdjust="spacingAndGlyphs">Mary Fox and son match Lynette, Jackie and Kevin</text>
<text class="big" x="2026" y="1471" textLength="599" lengthAdjust="spacingAndGlyphs">Lynette matches the Foxes and Daniel O</text>
<text class="big" x="1887" y="1510" textLength="738" lengthAdjust="spacingAndGlyphs">Jackie and Kevin match each other and the Foxes</text>
<text class="big" x="1643" y="1549" textLength="982" lengthAdjust="spacingAndGlyphs">Jackie also matches 4 other descendants of Jane Neild Rowbottom</text>
<text class="big" x="2042" y="1589" textLength="583" lengthAdjust="spacingAndGlyphs">Lynette does not match Jackie &amp; Kevin</text>
</svg>
</body></html>
